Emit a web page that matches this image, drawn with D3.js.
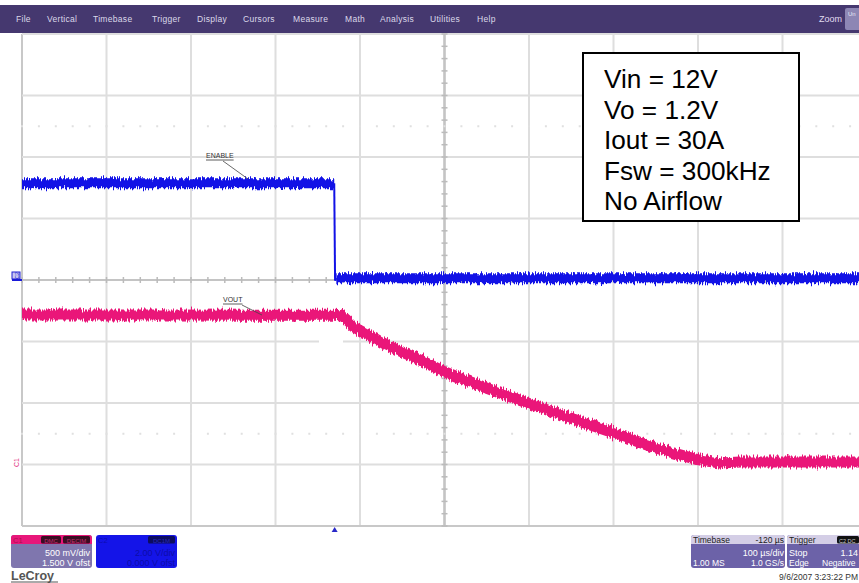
<!DOCTYPE html>
<html><head><meta charset="utf-8">
<script src="https://cdnjs.cloudflare.com/ajax/libs/d3/7.8.5/d3.min.js"></script>
<style>
html,body{margin:0;padding:0;background:#fff;}
svg{display:block;font-family:"Liberation Sans",Arial,sans-serif;}
</style></head><body>
<svg id="c" width="859" height="583"></svg>
<script>
// ---- data ----
const menuItems = ["File","Vertical","Timebase","Trigger","Display","Cursors","Measure","Math","Analysis","Utilities","Help"];
const menuX = [16,47,93,152,197,243,293,345,380,430,477];
const timeTicks = [-370,-270,-170,-70,30,130,230,330,430,530,630]; // µs, 100 µs/div
const divTicks = [-4,-3,-2,-1,0,1,2,3,4];
// ENABLE (C2), volts, 2 V/div
const enableTime = [-370, -0.5, 0.5, 2, 630];
const enableVolt = [3.15, 3.15, -0.02, 0.06, 0.06];
// VOUT (C1), volts, 500 mV/div, 1.5 V offset
const voutTime = [-370, -200, 0, 8, 22, 62, 101, 128, 180, 228, 278, 329, 377, 429, 456, 480, 560, 630];
const voutVolt = [1.215, 1.215, 1.213, 1.207, 1.12, 0.97, 0.85, 0.76, 0.62, 0.50, 0.38, 0.26, 0.14, 0.04, 0.012, 0.02, 0.02, 0.02];
const infoLines = ["Vin = 12V","Vo = 1.2V","Iout = 30A","Fsw = 300kHz","No Airflow"];

const svg = d3.select("#c");
const x = d3.scaleLinear().domain([-370, 630]).range([22, 867]);
const y = d3.scaleLinear().domain([-4, 4]).range([526, 34]);
const c1Div = v => (v - 1.5) / 0.5;
const c2Div = v => v / 2.0;

// filter for trace noise texture
const defs = svg.append("defs");
function noiseFilter(id, seed, freq, scale){
  const f = defs.append("filter").attr("id", id).attr("filterUnits","userSpaceOnUse")
    .attr("x",0).attr("y",0).attr("width",900).attr("height",600)
    .attr("color-interpolation-filters","sRGB");
  f.append("feTurbulence").attr("type","fractalNoise").attr("baseFrequency",freq)
    .attr("numOctaves",2).attr("seed",seed).attr("result","t");
  const ct = f.append("feComponentTransfer").attr("in","t").attr("result","t2");
  ct.append("feFuncG").attr("type","linear").attr("slope",0).attr("intercept",0.5);
  ct.append("feFuncA").attr("type","linear").attr("slope",0).attr("intercept",1);
  f.append("feDisplacementMap").attr("in","SourceGraphic").attr("in2","t2")
    .attr("scale",scale).attr("xChannelSelector","G").attr("yChannelSelector","R");
}
noiseFilter("nb", 4, "0.9 0.03", 9);
noiseFilter("np", 9, "0.8 0.03", 9);

// menu bar
svg.append("rect").attr("x",0).attr("y",5).attr("width",859).attr("height",28).attr("fill","#45386f");
svg.selectAll("text.menu").data(menuItems).enter().append("text").attr("class","menu")
  .attr("x",(d,i)=>menuX[i]).attr("y",22).attr("font-size",8.5).attr("letter-spacing",0.3).attr("fill","#dcd8ea").text(d=>d);
svg.append("text").attr("x",842).attr("y",22).attr("text-anchor","end").attr("font-size",9).attr("fill","#e0dcef").text("Zoom");
svg.append("rect").attr("x",845).attr("y",8).attr("width",16).attr("height",22).attr("rx",2).attr("fill","#8d86b4");
svg.append("text").attr("x",848).attr("y",16).attr("font-size",6).attr("fill","#e8e8f4").text("Un");

// grid
const g = svg.append("g");
g.selectAll("line.v").data(timeTicks).enter().append("line")
  .attr("x1",d=>x(d)).attr("x2",d=>x(d)).attr("y1",y(4)).attr("y2",y(-4))
  .attr("stroke",(d,i)=>i===0?"#c8c8c8":"#dedede").attr("stroke-width",2);
g.selectAll("line.h").data(divTicks).enter().append("line")
  .attr("x1",x(-370)).attr("x2",859).attr("y1",d=>y(d)).attr("y2",d=>y(d))
  .attr("stroke",(d,i)=>i===0?"#c8c8c8":"#dedede").attr("stroke-width",2);
// center axes with ticks
g.append("line").attr("x1",x(130)).attr("x2",x(130)).attr("y1",y(4)).attr("y2",y(-4)).attr("stroke","#c4c4c4").attr("stroke-width",2.5);
g.append("line").attr("x1",x(-370)).attr("x2",859).attr("y1",y(0)).attr("y2",y(0)).attr("stroke","#c4c4c4").attr("stroke-width",2);
const minorY = d3.range(-4, 4.01, 0.2);
g.selectAll("line.ty").data(minorY).enter().append("line")
  .attr("x1",x(130)-3).attr("x2",x(130)+3).attr("y1",d=>y(d)).attr("y2",d=>y(d)).attr("stroke","#bbb").attr("stroke-width",1.5);
const minorX = d3.range(-370, 631, 20);
g.selectAll("line.tx").data(minorX).enter().append("line")
  .attr("x1",d=>x(d)).attr("x2",d=>x(d)).attr("y1",y(0)-3).attr("y2",y(0)+3).attr("stroke","#bbb").attr("stroke-width",1.5);
// faint dotted quarter rows
[2.5,-2.5].forEach(r=>{
  g.selectAll(null).data(minorX).enter().append("rect")
    .attr("x",d=>x(d)-1).attr("y",y(r)-1).attr("width",2).attr("height",2).attr("fill","#e0e0e0");
});

// traces: noisy thick band for sloped/flat parts, thin line for vertical edges
function drawTrace(data, color, width, filterId){
  const segs = d3.pairs(data);
  const steep = segs.filter(([a,b]) => Math.abs(x(b[0]) - x(a[0])) < 2);
  const flat = segs.filter(([a,b]) => Math.abs(x(b[0]) - x(a[0])) >= 2);
  const ln = d3.line().x(d=>x(d[0])).y(d=>y(d[1]));
  const runs = [];
  flat.forEach(([a,b]) => {
    const last = runs[runs.length-1];
    if (last && last[last.length-1] === a) last.push(b); else runs.push([a,b]);
  });
  svg.selectAll(null).data(steep).enter().append("path").attr("d",d=>ln(d))
    .attr("fill","none").attr("stroke",color).attr("stroke-width",2);
  svg.selectAll(null).data(runs).enter().append("path").attr("d",d=>ln(d))
    .attr("fill","none").attr("stroke",color).attr("stroke-width",width)
    .attr("stroke-linejoin","round").attr("filter",`url(#${filterId})`);
}
const enableData = enableTime.map((t,i)=>[t, c2Div(enableVolt[i])]);
const voutData = voutTime.map((t,i)=>[t, c1Div(voutVolt[i])]);
drawTrace(enableData, "#1212e6", 10, "nb");
drawTrace(voutData, "#ea1679", 11, "np");

// white patch
svg.append("rect").attr("x",319).attr("y",322).attr("width",24).attr("height",40).attr("fill","#fff");

// trace labels
function tag(txt, tx, ty, x1, y1, x2, y2){
  const t = svg.append("text").attr("x",tx).attr("y",ty).attr("font-size",7).attr("fill","#333").text(txt);
  const w = t.node().getComputedTextLength();
  svg.append("line").attr("x1",tx).attr("x2",tx+w).attr("y1",ty+2).attr("y2",ty+2).attr("stroke","#333").attr("stroke-width",0.8);
  svg.append("line").attr("x1",x1).attr("x2",x2).attr("y1",y1).attr("y2",y2).attr("stroke","#444").attr("stroke-width",0.8);
}
tag("ENABLE", 206, 158, 223, 161, 248, 179);
tag("VOUT", 223, 302, 242, 305, 262, 315);

// channel markers at left
svg.append("rect").attr("x",12).attr("y",y(c2Div(0))-8).attr("width",8).attr("height",7).attr("fill","#c8c8f0").attr("stroke","#2020d0").attr("stroke-width",1);
svg.append("rect").attr("x",12).attr("y",y(c2Div(0))-1).attr("width",10).attr("height",2).attr("fill","#1a1ad8");
svg.append("text").attr("transform",`translate(18.5,${y(c2Div(0))-4.5}) rotate(-90)`).attr("text-anchor","middle")
  .attr("font-size",5.5).attr("fill","#2020d0").text("C2");
svg.append("text").attr("transform",`translate(19,${y(c1Div(0))-2}) rotate(-90)`).attr("text-anchor","middle")
  .attr("font-size",7).attr("fill","#e0307f").text("C1");

// trigger marker
svg.append("path").attr("d",`M${x(0)-3},${y(-4)+6}L${x(0)},${y(-4)+1}L${x(0)+3},${y(-4)+6}Z`).attr("fill","#2828c8");

// info box
svg.append("rect").attr("x",583).attr("y",53).attr("width",216).attr("height",168).attr("fill","#fff").attr("stroke","#000").attr("stroke-width",2);
svg.selectAll("text.info").data(infoLines).enter().append("text").attr("class","info")
  .attr("x",604).attr("y",(d,i)=>88+i*30.5).attr("font-size",26.2).attr("fill","#000").text(d=>d);

// bottom panels
function txt(s, tx, ty, size, fill, anchor){
  return svg.append("text").attr("x",tx).attr("y",ty).attr("font-size",size).attr("fill",fill)
    .attr("text-anchor",anchor||"start").text(s);
}
// C1 panel
svg.append("rect").attr("x",11).attr("y",535).attr("width",81).attr("height",33).attr("rx",3).attr("fill","#7f76ae");
svg.append("path").attr("d","M14,535H89a3,3 0 0 1 3,3V544H11V538a3,3 0 0 1 3,-3Z").attr("fill","#e8177a");
txt("C1",13,543,7.5,"#a8104e");
svg.append("rect").attr("x",41).attr("y",536).attr("width",20).attr("height",7.5).attr("rx",1.5).attr("fill","#3a0d22");
svg.append("rect").attr("x",63).attr("y",536).attr("width",27).attr("height",7.5).attr("rx",1.5).attr("fill","#3a0d22");
txt("DMC",51,542.5,6,"#c03070","middle");
txt("DECIM",76.5,542.5,6,"#c03070","middle");
txt("500 mV/div",90,555.5,9,"#fff","end");
txt("1.500 V ofst",90,566,9,"#fff","end");
// C2 panel
svg.append("rect").attr("x",96).attr("y",535).attr("width",81).attr("height",33).attr("rx",3).attr("fill","#1414e8");
svg.append("rect").attr("x",148).attr("y",536).attr("width",27).attr("height",7.5).attr("rx",1.5).attr("fill","#0c0c60");
txt("C2",98,543,7.5,"#0c0cb0");
txt("DC1M",161.5,542.5,6,"#2a2ab8","middle");
txt("2.00 V/div",175,555.5,9,"#0c0ca8","end");
txt("0.000 V ofst",175,566,9,"#0c0ca8","end");
// LeCroy
txt("LeCroy",11,580,12.5,"#555").attr("font-weight","bold");
svg.append("line").attr("x1",11).attr("x2",58).attr("y1",582).attr("y2",582).attr("stroke","#555").attr("stroke-width",1);
// Timebase panel
svg.append("rect").attr("x",691).attr("y",535).attr("width",94).attr("height",33).attr("rx",3).attr("fill","#6c62a8");
svg.append("path").attr("d","M694,535H782a3,3 0 0 1 3,3V544H691V538a3,3 0 0 1 3,-3Z").attr("fill","#d4cee6");
txt("Timebase",693,543,8.5,"#222");
txt("-120 µs",784,543,8.5,"#222","end");
txt("100 µs/div",784,555.5,9,"#fff","end");
txt("1.00 MS",693,566,8.5,"#fff");
txt("1.0 GS/s",784,566,8.5,"#fff","end");
// Trigger panel
svg.append("rect").attr("x",787).attr("y",535).attr("width",80).attr("height",33).attr("rx",3).attr("fill","#6c62a8");
svg.append("path").attr("d","M790,535H867V544H787V538a3,3 0 0 1 3,-3Z").attr("fill","#d4cee6");
txt("Trigger",789,543,8.5,"#222");
svg.append("rect").attr("x",837).attr("y",536).attr("width",22).attr("height",7.5).attr("rx",1.5).attr("fill","#111");
txt("C2 DC",839,542.5,5.5,"#ccc");
txt("Stop",789,555.5,9,"#fff");
txt("1.14",858,555.5,9,"#fff","end");
txt("Edge",789,566,8.5,"#fff");
txt("Negative",822,566,8.5,"#fff");
// date
txt("9/6/2007 3:23:22 PM",858,580,8.5,"#333","end");
</script>
</body></html>
